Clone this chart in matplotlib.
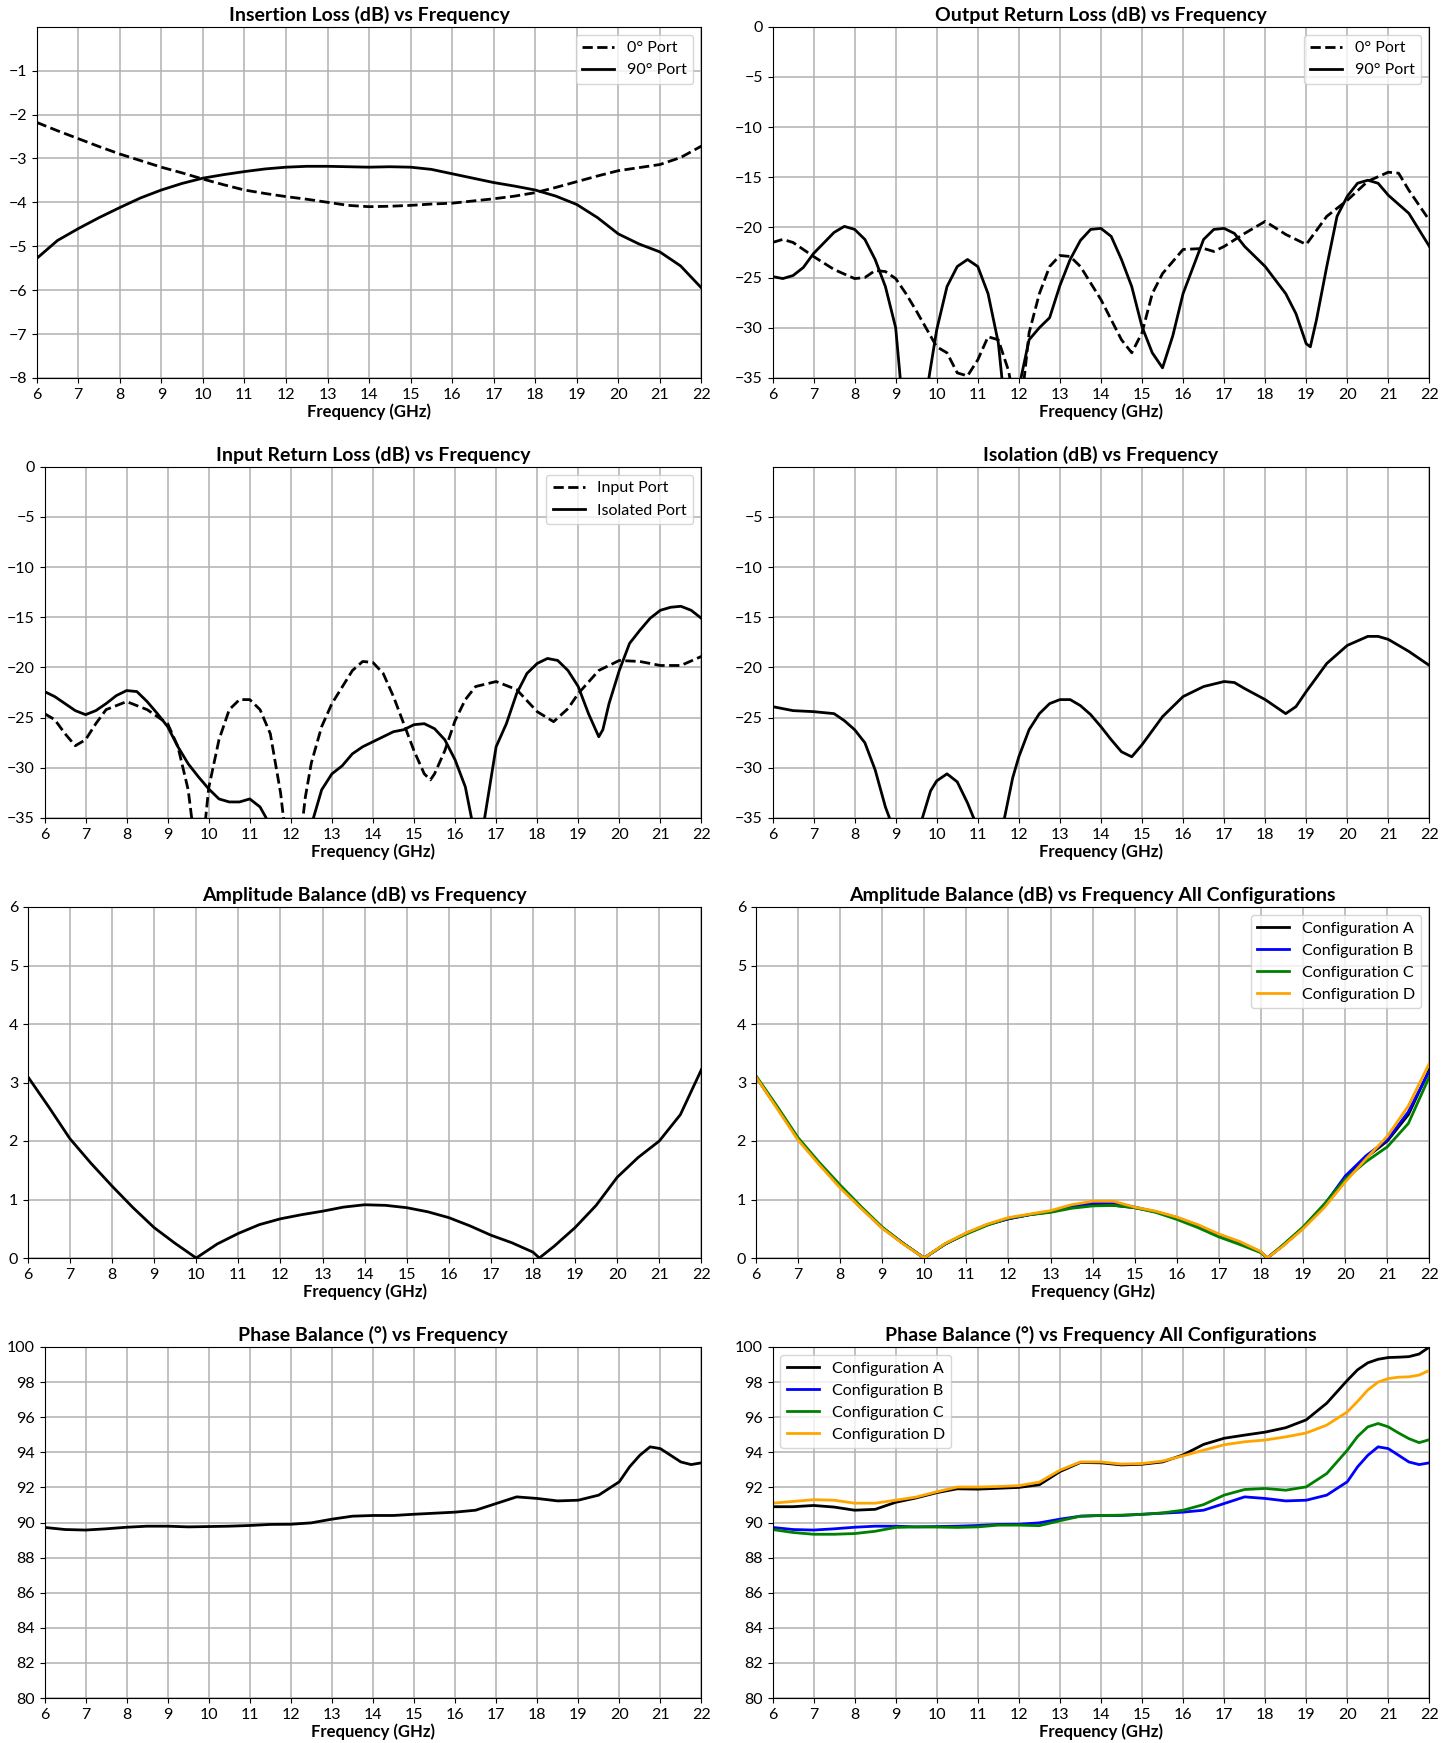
import matplotlib.pyplot as plt

plt.rcParams['font.family'] = ['Lato', 'DejaVu Sans']

# --- Insertion loss
il_f = [6, 6.5, 7, 7.5, 8, 8.5, 9, 9.5, 10, 10.5, 11, 11.5, 12, 12.5, 13, 13.5, 14, 14.5, 15, 15.5,
        16, 16.5, 17, 17.5, 18, 18.5, 19, 19.5, 20, 20.5, 21, 21.5, 22]
il_0 = [-2.18, -2.37, -2.55, -2.73, -2.9, -3.05, -3.2, -3.33, -3.47, -3.6, -3.72, -3.8, -3.87, -3.93,
        -4.0, -4.07, -4.1, -4.09, -4.07, -4.04, -4.02, -3.97, -3.92, -3.86, -3.78, -3.66, -3.53, -3.4,
        -3.28, -3.21, -3.14, -2.98, -2.72]
il_90 = [-5.28, -4.87, -4.6, -4.35, -4.12, -3.9, -3.72, -3.57, -3.45, -3.37, -3.3, -3.24, -3.2, -3.18,
         -3.18, -3.19, -3.2, -3.19, -3.2, -3.25, -3.35, -3.45, -3.55, -3.63, -3.72, -3.86, -4.05, -4.35,
         -4.72, -4.95, -5.13, -5.45, -5.95]

# --- Output return loss
orl_f0 = [6, 6.25, 6.5, 7, 7.5, 8, 8.25, 8.5, 8.75, 9, 9.25, 9.5, 10, 10.25, 10.5, 10.75, 11, 11.25,
          11.5, 11.75, 12, 12.25, 12.5, 12.75, 13, 13.25, 13.5, 14, 14.25, 14.5, 14.75, 15, 15.25,
          15.5, 16, 16.5, 16.75, 17, 17.5, 18, 18.5, 19, 19.5, 20, 20.5, 21, 21.25, 21.5, 22]
orl_0 = [-21.5, -21.2, -21.5, -22.9, -24.2, -25.1, -25.0, -24.3, -24.4, -25.1, -26.6, -28.3, -31.9,
         -32.5, -34.5, -34.8, -33.2, -30.9, -31.2, -34.3, -40, -30.5, -26.6, -23.9, -22.8, -22.9,
         -23.9, -27.2, -29.2, -31.2, -32.5, -30.5, -26.6, -24.6, -22.2, -22.1, -22.4, -21.9, -20.6,
         -19.4, -20.7, -21.7, -18.9, -17.3, -15.4, -14.5, -14.6, -16.3, -19.3]
orl_f90 = [6, 6.25, 6.5, 6.75, 7, 7.5, 7.75, 8, 8.25, 8.5, 8.75, 9, 9.1, 9.25, 9.75, 10, 10.25, 10.5,
           10.75, 11, 11.25, 11.5, 11.6, 11.75, 12, 12.25, 12.5, 12.75, 13, 13.25, 13.5, 13.75, 14,
           14.25, 14.5, 14.75, 15, 15.25, 15.5, 15.75, 16, 16.25, 16.5, 16.75, 17, 17.25, 17.5, 18,
           18.5, 18.75, 19, 19.1, 19.25, 19.5, 19.75, 20, 20.25, 20.5, 20.75, 21, 21.5, 22]
orl_90 = [-24.9, -25.1, -24.8, -24.0, -22.6, -20.5, -19.9, -20.2, -21.2, -23.2, -25.9, -30.0, -34.5,
          -42, -36.5, -30.2, -25.9, -23.9, -23.2, -23.9, -26.6, -31.5, -35.5, -42, -36, -31.2, -30.0,
          -29.0, -25.8, -23.2, -21.3, -20.2, -20.1, -20.9, -23.2, -25.9, -29.9, -32.5, -34.0, -30.8,
          -26.6, -23.9, -21.2, -20.2, -20.1, -20.6, -21.9, -23.9, -26.6, -28.6, -31.6, -31.9, -29.2,
          -23.9, -18.9, -16.9, -15.6, -15.3, -15.6, -16.8, -18.6, -21.9]

# --- Input return loss
irl_fi = [6, 6.25, 6.5, 6.75, 7, 7.25, 7.5, 8, 8.5, 9, 9.25, 9.5, 9.6, 9.75, 9.9, 10, 10.25, 10.5,
          10.75, 11, 11.25, 11.5, 11.75, 11.85, 12.1, 12.35, 12.5, 12.75, 13, 13.5, 13.75, 14, 14.25,
          14.5, 14.75, 15, 15.25, 15.4, 15.5, 15.75, 16, 16.25, 16.5, 17, 17.5, 18, 18.4, 18.75, 19,
          19.5, 20, 20.5, 21, 21.5, 22]
irl_in = [-24.6, -25.2, -26.6, -27.8, -27.2, -25.6, -24.2, -23.4, -24.2, -25.6, -27.9, -32.2, -35.5,
          -42, -36, -32.0, -27.2, -24.2, -23.2, -23.2, -24.2, -26.6, -32.5, -36, -42, -33, -29.5,
          -25.9, -23.6, -20.3, -19.4, -19.5, -20.6, -22.9, -25.6, -28.3, -30.6, -31.2, -30.6, -28.3,
          -25.3, -23.2, -21.9, -21.4, -22.2, -24.4, -25.4, -24.1, -22.6, -20.3, -19.3, -19.4, -19.8,
          -19.8, -18.9]
irl_fs = [6, 6.25, 6.5, 6.75, 7, 7.25, 7.5, 7.75, 8, 8.25, 8.5, 8.75, 9, 9.25, 9.5, 9.75, 10, 10.25,
          10.5, 10.75, 11, 11.25, 11.4, 11.6, 12.4, 12.55, 12.75, 13, 13.25, 13.5, 13.75, 14, 14.25,
          14.5, 14.75, 15, 15.25, 15.5, 15.75, 16, 16.25, 16.4, 16.55, 16.72, 17, 17.25, 17.5, 17.75,
          18, 18.25, 18.5, 18.75, 19, 19.25, 19.5, 19.6, 19.75, 20, 20.25, 20.5, 20.75, 21, 21.25,
          21.5, 21.75, 22]
irl_iso = [-22.4, -22.9, -23.6, -24.3, -24.7, -24.3, -23.6, -22.8, -22.3, -22.4, -23.4, -24.6, -25.9,
           -27.9, -29.6, -30.9, -32.1, -33.1, -33.4, -33.4, -33.1, -33.9, -35, -42, -42, -35, -32.2,
           -30.6, -29.8, -28.6, -27.9, -27.4, -26.9, -26.4, -26.2, -25.7, -25.6, -26.1, -27.2, -29.2,
           -31.9, -35, -42, -35, -27.9, -25.6, -22.6, -20.6, -19.6, -19.1, -19.3, -20.3, -21.9, -24.6,
           -26.9, -26.2, -23.6, -20.3, -17.6, -16.3, -15.1, -14.3, -14.0, -13.9, -14.3, -15.1]

# --- Isolation
iso_f = [6, 6.5, 7, 7.5, 7.75, 8, 8.25, 8.5, 8.75, 8.85, 9.0, 9.5, 9.65, 9.85, 10, 10.25, 10.5, 10.75,
         10.9, 11.1, 11.5, 11.65, 11.85, 12, 12.25, 12.5, 12.75, 13, 13.25, 13.5, 13.75, 14, 14.25,
         14.5, 14.75, 15, 15.5, 16, 16.5, 17, 17.25, 17.5, 18, 18.5, 18.75, 19, 19.5, 20, 20.5, 20.75,
         21, 21.5, 22]
iso = [-23.9, -24.3, -24.4, -24.6, -25.3, -26.2, -27.5, -30.2, -33.9, -35, -42, -42, -35, -32.3,
       -31.3, -30.6, -31.4, -33.5, -35, -42, -42, -35, -31, -28.9, -26.2, -24.6, -23.6, -23.2, -23.2,
       -23.8, -24.7, -25.9, -27.2, -28.4, -28.9, -27.7, -24.9, -22.9, -21.9, -21.4, -21.5, -22.1,
       -23.2, -24.6, -23.9, -22.4, -19.6, -17.8, -16.9, -16.9, -17.2, -18.4, -19.8]

# --- Amplitude balance
amp_f = [6, 6.5, 7, 7.5, 8, 8.5, 9, 9.5, 10, 10.5, 11, 11.5, 12, 12.5, 13, 13.5, 14, 14.5, 15, 15.5,
         16, 16.5, 17, 17.5, 18, 18.15, 18.5, 19, 19.5, 20, 20.5, 21, 21.5, 22]
amp_a = [3.1, 2.58, 2.04, 1.62, 1.23, 0.86, 0.52, 0.25, 0.0, 0.24, 0.42, 0.57, 0.67, 0.74, 0.8, 0.87,
         0.91, 0.9, 0.86, 0.79, 0.69, 0.55, 0.39, 0.26, 0.1, 0.0, 0.2, 0.52, 0.9, 1.38, 1.72, 2.0, 2.45,
         3.22]
amp_b = [3.1, 2.58, 2.04, 1.62, 1.23, 0.86, 0.52, 0.25, 0.0, 0.24, 0.42, 0.57, 0.67, 0.74, 0.79, 0.88,
         0.94, 0.93, 0.87, 0.79, 0.69, 0.56, 0.4, 0.27, 0.1, 0.0, 0.2, 0.51, 0.9, 1.4, 1.75, 2.02, 2.5,
         3.2]
amp_c = [3.12, 2.6, 2.06, 1.64, 1.25, 0.88, 0.53, 0.25, 0.0, 0.24, 0.41, 0.56, 0.68, 0.74, 0.78, 0.85,
         0.89, 0.9, 0.86, 0.78, 0.66, 0.52, 0.36, 0.23, 0.09, 0.0, 0.21, 0.53, 0.92, 1.35, 1.65, 1.9,
         2.3, 3.1]
amp_d = [3.1, 2.56, 2.02, 1.6, 1.2, 0.85, 0.51, 0.24, 0.0, 0.25, 0.43, 0.58, 0.69, 0.75, 0.81, 0.91,
         0.97, 0.97, 0.87, 0.8, 0.7, 0.57, 0.41, 0.28, 0.11, 0.0, 0.19, 0.5, 0.86, 1.3, 1.7, 2.08, 2.6,
         3.33]

# --- Phase balance
ph_f = [6, 6.5, 7, 7.5, 8, 8.5, 9, 9.5, 10, 10.5, 11, 11.5, 12, 12.5, 13, 13.5, 14, 14.5, 15, 15.5,
        16, 16.5, 17, 17.5, 18, 18.5, 19, 19.5, 20, 20.25, 20.5, 20.75, 21, 21.25, 21.5, 21.75, 22]
ph_a = [90.9, 90.9, 90.97, 90.88, 90.7, 90.75, 91.15, 91.4, 91.7, 91.92, 91.9, 91.95, 92.0, 92.15,
        92.9, 93.42, 93.4, 93.28, 93.32, 93.45, 93.85, 94.45, 94.8, 94.98, 95.15, 95.4, 95.85, 96.8,
        98.1, 98.7, 99.1, 99.3, 99.4, 99.42, 99.45, 99.6, 100.0]
ph_b = [89.72, 89.6, 89.57, 89.64, 89.73, 89.79, 89.79, 89.75, 89.77, 89.79, 89.83, 89.89, 89.9, 89.98,
        90.19, 90.36, 90.4, 90.4, 90.47, 90.53, 90.59, 90.7, 91.08, 91.46, 91.37, 91.23, 91.27, 91.56,
        92.32, 93.17, 93.83, 94.31, 94.21, 93.83, 93.45, 93.3, 93.4]
ph_c = [89.6, 89.43, 89.33, 89.33, 89.37, 89.5, 89.72, 89.75, 89.74, 89.72, 89.75, 89.85, 89.85, 89.82,
        90.1, 90.36, 90.4, 90.42, 90.46, 90.55, 90.7, 91.02, 91.56, 91.88, 91.94, 91.84, 92.03, 92.79,
        94.12, 94.9, 95.45, 95.64, 95.45, 95.1, 94.78, 94.55, 94.72]
ph_d = [91.1, 91.2, 91.3, 91.27, 91.1, 91.1, 91.27, 91.45, 91.75, 92.02, 92.02, 92.05, 92.1, 92.3,
        92.98, 93.45, 93.45, 93.33, 93.36, 93.5, 93.8, 94.12, 94.43, 94.6, 94.7, 94.88, 95.1, 95.55,
        96.3, 96.9, 97.55, 98.0, 98.2, 98.28, 98.3, 98.4, 98.67]

config_names = ['Configuration A', 'Configuration B', 'Configuration C', 'Configuration D']
config_colors = ['black', 'blue', 'green', 'orange']
freq_ticks = list(range(6, 23))

W, H = 1455, 1743
fig = plt.figure(figsize=(W / 100, H / 100), dpi=100)


def make_ax(left, top, right, bottom):
    # pixel box -> figure fraction
    return fig.add_axes([left / W, 1 - bottom / H, (right - left) / W, (bottom - top) / H])


def style(ax, title, ylim, yticks):
    ax.set_title(title, fontsize=14, fontweight='bold', pad=4)
    ax.set_xlabel('Frequency (GHz)', fontsize=12, fontweight='bold', labelpad=1)
    ax.set_xlim(6, 22)
    ax.set_ylim(*ylim)
    ax.set_xticks(freq_ticks)
    ax.set_yticks(yticks)
    ax.tick_params(labelsize=11.5)
    ax.grid(True, color='#b0b0b0', linewidth=1.1)
    ax.set_axisbelow(True)


rows = [(26.7, 377.9), (466.8, 818), (907, 1258), (1347, 1698)]
lefts_l = [36.7, 44.5, 27.8, 44.5]
lefts_r = [772.5, 772.5, 755.8, 772.5]

# row 1
ax = make_ax(lefts_l[0], rows[0][0], 701.4, rows[0][1])
ax.plot(il_f, il_0, 'k--', lw=2, label='0° Port')
ax.plot(il_f, il_90, 'k-', lw=2, label='90° Port')
style(ax, 'Insertion Loss (dB) vs Frequency', (-8, 0), list(range(-8, 0)))
ax.legend(loc='upper right', fontsize=11.5)

ax = make_ax(lefts_r[0], rows[0][0], 1429.4, rows[0][1])
ax.plot(orl_f0, orl_0, 'k--', lw=2, label='0° Port')
ax.plot(orl_f90, orl_90, 'k-', lw=2, label='90° Port')
style(ax, 'Output Return Loss (dB) vs Frequency', (-35, 0), list(range(-35, 1, 5)))
ax.legend(loc='upper right', fontsize=11.5)

# row 2
ax = make_ax(lefts_l[1], rows[1][0], 701.4, rows[1][1])
ax.plot(irl_fi, irl_in, 'k--', lw=2, label='Input Port')
ax.plot(irl_fs, irl_iso, 'k-', lw=2, label='Isolated Port')
style(ax, 'Input Return Loss (dB) vs Frequency', (-35, 0), list(range(-35, 1, 5)))
ax.legend(loc='upper right', fontsize=11.5)

ax = make_ax(lefts_r[1], rows[1][0], 1429.4, rows[1][1])
ax.plot(iso_f, iso, 'k-', lw=2)
style(ax, 'Isolation (dB) vs Frequency', (-35, 0), list(range(-35, 0, 5)))

# row 3
ax = make_ax(lefts_l[2], rows[2][0], 701.4, rows[2][1])
ax.plot(amp_f, amp_a, 'k-', lw=2)
style(ax, 'Amplitude Balance (dB) vs Frequency', (0, 6), list(range(0, 7)))

ax = make_ax(lefts_r[2], rows[2][0], 1429.4, rows[2][1])
for vals, name, col in zip([amp_a, amp_b, amp_c, amp_d], config_names, config_colors):
    ax.plot(amp_f, vals, color=col, lw=2, label=name)
style(ax, 'Amplitude Balance (dB) vs Frequency All Configurations', (0, 6), list(range(0, 7)))
ax.legend(loc='upper right', fontsize=11.5)

# row 4
ax = make_ax(lefts_l[3], rows[3][0], 701.4, rows[3][1])
ax.plot(ph_f, ph_b, 'k-', lw=2)
style(ax, 'Phase Balance (°) vs Frequency', (80, 100), list(range(80, 101, 2)))

ax = make_ax(lefts_r[3], rows[3][0], 1429.4, rows[3][1])
for vals, name, col in zip([ph_a, ph_b, ph_c, ph_d], config_names, config_colors):
    ax.plot(ph_f, vals, color=col, lw=2, label=name)
style(ax, 'Phase Balance (°) vs Frequency All Configurations', (80, 100), list(range(80, 101, 2)))
ax.legend(loc='upper left', fontsize=11.5)

fig.savefig('out.png', dpi=100)
